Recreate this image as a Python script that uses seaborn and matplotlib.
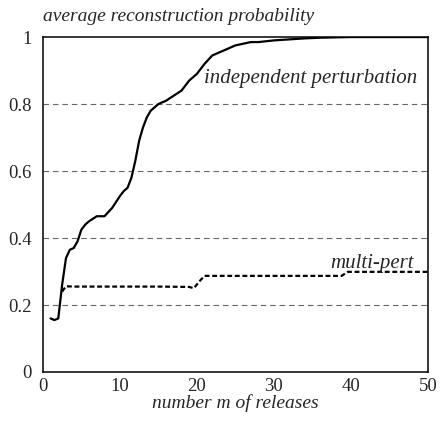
import matplotlib
matplotlib.use("Agg")
import matplotlib.pyplot as plt
import seaborn as sns
import pandas as pd

# independent perturbation curve
indep_m = [1, 1.5, 2, 2.5, 3, 3.5, 4, 4.5, 5, 5.5, 6, 7, 8, 9, 10, 10.5, 11, 11.5,
           12, 12.5, 13, 13.5, 14, 14.5, 15, 16, 17, 18, 19, 20, 21, 22, 23, 24,
           25, 26, 27, 28, 30, 32, 34, 36, 40, 45, 50]
indep_p = [0.16, 0.155, 0.16, 0.26, 0.34, 0.365, 0.37, 0.39, 0.425, 0.44, 0.45,
           0.465, 0.465, 0.49, 0.525, 0.54, 0.55, 0.58, 0.63, 0.69, 0.73, 0.76,
           0.78, 0.79, 0.80, 0.81, 0.825, 0.84, 0.87, 0.89, 0.92, 0.945, 0.955,
           0.965, 0.975, 0.98, 0.985, 0.985, 0.99, 0.993, 0.996, 0.998, 1.0, 1.0, 1.0]

# multi-pert curve
multi_m = [2.5, 3, 4, 6, 10, 15, 19, 19.6, 20.5, 21, 25, 30, 35, 38.8, 39.6, 45, 50]
multi_p = [0.24, 0.256, 0.255, 0.255, 0.255, 0.255, 0.254, 0.25, 0.275, 0.287,
           0.287, 0.287, 0.287, 0.287, 0.299, 0.299, 0.299]

sns.set_style("white")
plt.rcParams["font.family"] = ["Liberation Serif", "DejaVu Serif"]

fig = plt.figure(figsize=(4.42, 4.21), dpi=100)
ax = fig.add_axes([0.097, 0.1164, 0.871, 0.7956])

for yg in [0.2, 0.4, 0.6, 0.8]:
    ax.axhline(yg, color="#666666", lw=0.8, linestyle=(0, (5, 3.5)), zorder=1)

df1 = pd.DataFrame({"m": indep_m, "p": indep_p})
df2 = pd.DataFrame({"m": multi_m, "p": multi_p})
sns.lineplot(data=df1, x="m", y="p", ax=ax, color="black", lw=1.6, zorder=3)
sns.lineplot(data=df2, x="m", y="p", ax=ax, color="black", lw=1.6,
             linestyle=(0, (2.2, 1.2)), zorder=3)

ax.set_xlim(0, 50)
ax.set_ylim(0, 1)
ax.set_xticks([0, 10, 20, 30, 40, 50])
ax.set_yticks([0, 0.2, 0.4, 0.6, 0.8, 1])
ax.set_yticklabels(["0", "0.2", "0.4", "0.6", "0.8", "1"])
ax.tick_params(axis="x", direction="in", length=5, width=1, labelsize=13.5, pad=4)
ax.tick_params(axis="y", length=0, labelsize=13.5, pad=8)
for s in ax.spines.values():
    s.set_color("black")
    s.set_linewidth(1.1)

ax.set_xlabel("number m of releases", fontsize=14, style="italic", labelpad=0)
ax.set_ylabel("")
ax.text(0, 1.035, "average reconstruction probability", transform=ax.transAxes,
        fontsize=14, style="italic", ha="left", va="bottom")
ax.text(34.8, 0.875, "independent perturbation", fontsize=15, style="italic",
        ha="center", va="center")
ax.text(42.7, 0.325, "multi-pert", fontsize=15, style="italic",
        ha="center", va="center")

fig.savefig("out.png", dpi=100)
